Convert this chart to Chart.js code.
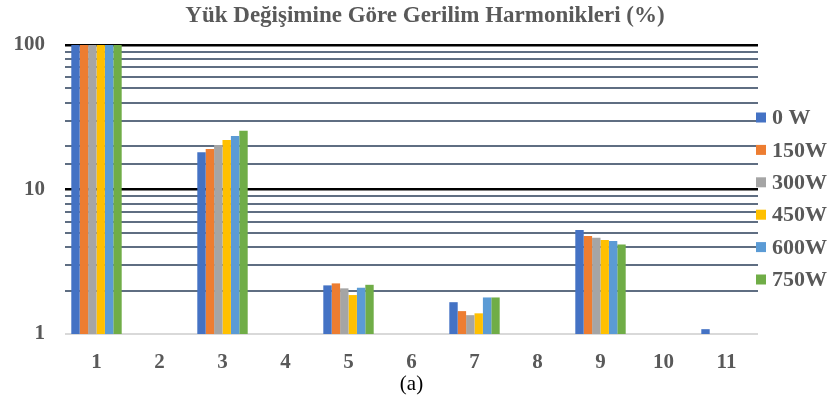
<!DOCTYPE html>
<html>
<head>
<meta charset="utf-8">
<script src="https://cdn.jsdelivr.net/npm/chart.js@4/dist/chart.umd.min.js"></script>
<style>
  html, body { margin: 0; padding: 0; background: #fff; }
  #wrap { width: 832px; height: 403px; }
</style>
</head>
<body>
<div id="wrap"><canvas id="harmChart" width="832" height="403"></canvas></div>
<script>
const chartTitle = 'Yük Değişimine Göre Gerilim Harmonikleri (%)';
const harmonics = ['1', '2', '3', '4', '5', '6', '7', '8', '9', '10', '11'];
const loadLabels = ['0 W', '150W', '300W', '450W', '600W', '750W'];
const loadColors = ['#4472C4', '#ED7D31', '#A5A5A5', '#FFC000', '#5B9BD5', '#70AD47'];

// harmonic magnitude per load step (% of fundamental)
const load0 = [100, null, 18.1, null, 2.17, null, 1.66, null, 5.24, null, 1.08];
const load150 = [100, null, 19.1, null, 2.24, null, 1.44, null, 4.77, null, null];
const load300 = [100, null, 20.3, null, 2.07, null, 1.35, null, 4.64, null, null];
const load450 = [100, null, 22.0, null, 1.86, null, 1.39, null, 4.47, null, null];
const load600 = [100, null, 23.5, null, 2.09, null, 1.79, null, 4.40, null, null];
const load750 = [100, null, 25.5, null, 2.19, null, 1.79, null, 4.17, null, null];
const loadSeries = [load0, load150, load300, load450, load600, load750];

const yLabels = [1, 10, 100];

const serif = "'Liberation Serif', 'Times New Roman', serif";
const textGray = '#595959';

// title and right-hand legend drawn on top of the chart
const extrasPlugin = {
  id: 'extras',
  afterDraw(chart) {
    const ctx = chart.ctx;
    ctx.save();
    ctx.fillStyle = textGray;
    ctx.font = 'bold 23px ' + serif;
    ctx.textAlign = 'center';
    ctx.textBaseline = 'middle';
    ctx.fillText(chartTitle, 425, 16);

    ctx.textAlign = 'left';
    ctx.font = 'bold 22px ' + serif;
    chart.data.datasets.forEach((ds, i) => {
      const y = 117.5 + i * 32.4;
      ctx.fillStyle = ds.backgroundColor;
      ctx.fillRect(756, y - 5, 10, 10);
      ctx.fillStyle = textGray;
      ctx.fillText(ds.label, 772, y + 1);
    });
    ctx.restore();
  }
};

const ctx = document.getElementById('harmChart').getContext('2d');
new Chart(ctx, {
  type: 'bar',
  data: {
    labels: harmonics,
    datasets: loadLabels.map((label, i) => ({
      label: label,
      data: loadSeries[i],
      backgroundColor: loadColors[i],
      borderWidth: 0,
      categoryPercentage: 0.8,
      barPercentage: 1.0
    }))
  },
  options: {
    responsive: false,
    animation: false,
    layout: { padding: { top: 45, right: 74, bottom: 0, left: 0 } },
    plugins: {
      legend: { display: false },
      title: { display: false },
      tooltip: { enabled: false }
    },
    scales: {
      x: {
        grid: { display: false, drawTicks: false },
        border: { display: false },
        ticks: {
          color: textGray,
          font: { family: serif, size: 21, weight: 'bold' },
          padding: 16
        },
        title: {
          display: true,
          text: '(a)',
          color: '#000',
          font: { family: serif, size: 21 },
          padding: { top: 0, bottom: 6 }
        },
        afterFit(scale) { scale.height = 69; }
      },
      y: {
        type: 'logarithmic',
        min: 1,
        max: 100,
        border: { display: false },
        grid: {
          drawTicks: false,
          color: c => c.tick.value === 1 ? '#d9d9d9' : (yLabels.includes(c.tick.value) ? '#000' : '#5f6e82'),
          lineWidth: c => yLabels.includes(c.tick.value) && c.tick.value !== 1 ? 2.5 : 2
        },
        ticks: {
          autoSkip: false,
          color: textGray,
          font: { family: serif, size: 21, weight: 'bold' },
          padding: 20,
          callback: v => yLabels.includes(v) ? String(v) : ''
        },
        afterFit(scale) { scale.width = 65; }
      }
    }
  },
  plugins: [extrasPlugin]
});
</script>
</body>
</html>
